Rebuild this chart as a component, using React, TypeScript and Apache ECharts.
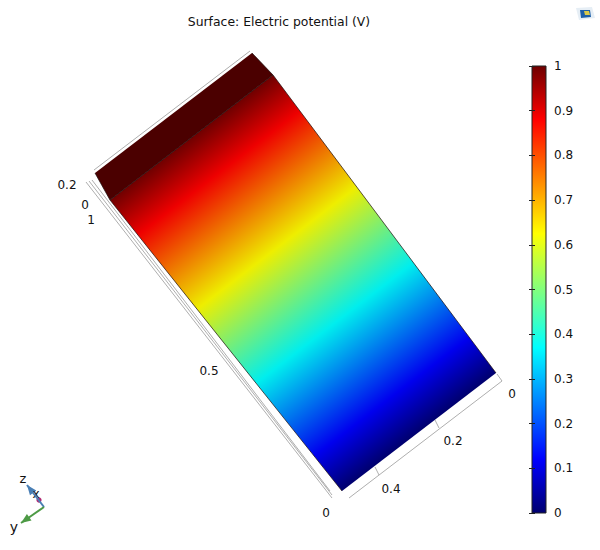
import React, { useEffect, useRef } from "react";
import * as echarts from "echarts";

const TITLE = "Surface: Electric potential (V)";
const FONT = "DejaVu Sans";

// colour scale: potential value -> colour
const scaleValues = [0, 0.12, 0.37, 0.625, 0.88, 1];
const scaleColors = ["#000070", "#0000ff", "#00ffff", "#ffff00", "#ff0000", "#6e0000"];
const surfaceColors = ["#00006e", "#0000ee", "#00eeee", "#eeee00", "#ee0000", "#700000"];
const colorbarRange = [0, 1];

// projected geometry of the block
const surfaceCorners = [[110, 200], [273, 75], [496, 373], [342, 491]];
const capCorners = [[95, 173], [252, 53], [273, 75], [110, 200]];
const capColor = "#4b0000";
const edgeLines = [
  [[110, 200], [273, 75]],
  [[110, 200], [342, 491]],
  [[273, 75], [496, 373]],
  [[95, 173], [110, 200]],
  [[252, 53], [273, 75]],
];
const axisLines = [
  [[94, 170], [250, 51]],
  [[86, 182], [332, 498]],
  [[89, 181], [332, 495]],
  [[92, 180], [330, 491]],
  [[349, 498], [502, 381]],
  [[375, 467], [379, 475]],
  [[435, 420], [439, 428]],
  [[497, 374], [502, 381]],
];
const axisTexts: [number, number, string][] = [
  [67, 185, "0.2"],
  [85, 205, "0"],
  [91, 220, "1"],
  [209, 371, "0.5"],
  [326, 513, "0"],
  [391, 489, "0.4"],
  [453, 441, "0.2"],
  [512, 394, "0"],
];

// orientation triad
const triadArrows: [number[][], string][] = [
  [[[44, 507], [27, 485]], "#4a7fb5"],
  [[[44, 507], [21, 523]], "#4d9a45"],
];
const triadTexts: [number, number, string, number][] = [
  [23, 478, "z", 13],
  [36, 494, "x", 12],
  [14, 527, "y", 14],
];
const triadDot = [39, 500];

// application logo
const logoFrame = [[576, 8], [592, 7], [595, 18], [579, 20]];
const logoBlue = [[580, 10], [590, 10], [591, 17], [581, 18]];
const logoLight = [[584, 11], [589, 11], [590, 15], [585, 15]];

const sceneAxisX = { type: "value", min: 0, max: 600, show: false, gridIndex: 0 };
const sceneAxisY = { type: "value", min: 0, max: 550, inverse: true, show: false, gridIndex: 0 };

export default function App() {
  const ref = useRef<HTMLDivElement>(null);
  useEffect(() => {
    const chart = echarts.init(ref.current!, null, { renderer: "svg" });

    const poly = (api: any, pts: number[][], style: any) => ({
      type: "polygon",
      shape: { points: pts.map((p) => api.coord(p)) },
      style,
    });

    const sceneSeries = (renderItem: any, data: any[] = [[0, 0]]) => ({
      type: "custom",
      coordinateSystem: "cartesian2d",
      xAxisIndex: 0,
      yAxisIndex: 0,
      silent: true,
      clip: false,
      data,
      renderItem,
    });

    const lineSeries = (pts: number[][], color: string, width: number) => ({
      type: "line",
      xAxisIndex: 0,
      yAxisIndex: 0,
      data: pts,
      symbol: "none",
      silent: true,
      lineStyle: { color, width },
    });

    const textSeries = (rows: any[][], size: number) =>
      sceneSeries((_: any, api: any) => {
        const p = api.coord([api.value(0), api.value(1)]);
        const row = rows[api.value(2)];
        return {
          type: "text",
          x: p[0],
          y: p[1],
          style: {
            text: row[2],
            fill: "#111",
            font: `${row[3] || size}px "${FONT}"`,
            align: "center",
            verticalAlign: "middle",
          },
        };
      }, rows.map((r, i) => [r[0], r[1], i]));

    const surfaceItem = (_: any, api: any) => {
      const [a, b, c, d] = surfaceCorners.map((p) => api.coord(p));
      const dx = c[0] - d[0];
      const dy = c[1] - d[1];
      const t = ((a[0] - d[0]) * dx + (a[1] - d[1]) * dy) / (dx * dx + dy * dy);
      const foot = [d[0] + t * dx, d[1] + t * dy];
      const fill = new echarts.graphic.LinearGradient(
        foot[0], foot[1], a[0], a[1],
        scaleValues.map((v, i) => ({ offset: v, color: surfaceColors[i] })),
        true
      );
      return {
        type: "polygon",
        shape: { points: [a, b, c, d] },
        style: { fill },
      };
    };

    const barItem = (_: any, api: any) => {
      const tl = api.coord([0, 1]);
      const br = api.coord([1, 0]);
      const fill = new echarts.graphic.LinearGradient(
        0, 1, 0, 0,
        scaleValues.map((v, i) => ({ offset: v, color: scaleColors[i] }))
      );
      return {
        type: "rect",
        shape: { x: tl[0], y: tl[1], width: br[0] - tl[0], height: br[1] - tl[1] },
        style: { fill, stroke: "#222", lineWidth: 1 },
      };
    };

    const barAxis = (position: string, labels: boolean) => ({
      type: "value",
      gridIndex: 1,
      min: colorbarRange[0],
      max: colorbarRange[1],
      interval: 0.1,
      position,
      splitLine: { show: false },
      axisLine: { show: false },
      axisTick: { show: true, inside: true, length: 3, lineStyle: { color: "#222" } },
      axisLabel: labels
        ? { margin: 8, fontFamily: FONT, fontSize: 12, color: "#111" }
        : { show: false },
      z: 5,
    });

    chart.setOption({
      animation: false,
      backgroundColor: "#ffffff",
      title: {
        text: TITLE,
        left: 274,
        top: 10,
        textAlign: "center",
        textStyle: { fontFamily: FONT, fontSize: 12.4, fontWeight: "normal", color: "#111" },
      },
      grid: [
        { left: 0, right: 0, top: 0, bottom: 0 },
        { left: 532, top: 66, width: 14, height: 447 },
      ],
      xAxis: [sceneAxisX, { type: "value", min: 0, max: 1, show: false, gridIndex: 1 }],
      yAxis: [sceneAxisY, barAxis("right", true), barAxis("left", false)],
      series: [
        sceneSeries(surfaceItem),
        sceneSeries((_: any, api: any) => poly(api, capCorners, { fill: capColor })),
        ...edgeLines.map((l) => lineSeries(l, "#1a0a0a", 0.7)),
        ...axisLines.map((l) => lineSeries(l, "#999999", 0.8)),
        textSeries(axisTexts, 12),
        ...triadArrows.map(([pts, c]) => lineSeries(pts, c, 2)),
        sceneSeries((_: any, api: any) => {
          const arrow = (pts: number[][], color: string) => {
            const [o, tip] = pts.map((p) => api.coord(p));
            const ux = tip[0] - o[0];
            const uy = tip[1] - o[1];
            const len = Math.hypot(ux, uy);
            const nx = ux / len;
            const ny = uy / len;
            return {
              type: "polygon",
              shape: {
                points: [
                  [tip[0], tip[1]],
                  [tip[0] - 10 * nx - 4 * ny, tip[1] - 10 * ny + 4 * nx],
                  [tip[0] - 10 * nx + 4 * ny, tip[1] - 10 * ny - 4 * nx],
                ],
              },
              style: { fill: color },
            };
          };
          const c = api.coord(triadDot);
          return {
            type: "group",
            children: [
              ...triadArrows.map(([pts, col]) => arrow(pts, col)),
              { type: "circle", shape: { cx: c[0], cy: c[1], r: 2.6 }, style: { fill: "#b0246e" } },
            ],
          };
        }),
        textSeries(triadTexts, 12),
        sceneSeries((_: any, api: any) => ({
          type: "group",
          children: [
            poly(api, logoFrame, { fill: "#e6eef5" }),
            poly(api, logoBlue, { fill: "#1d5fa8" }),
            poly(api, logoLight, { fill: "#d9c94a" }),
          ],
        })),
        {
          type: "custom",
          coordinateSystem: "cartesian2d",
          xAxisIndex: 1,
          yAxisIndex: 1,
          silent: true,
          data: [[0, 0]],
          renderItem: barItem,
          z: 1,
        },
      ],
    });
    return () => chart.dispose();
  }, []);
  return <div ref={ref} style={{ position: "absolute", left: 0, top: 0, width: 600, height: 550 }} />;
}
